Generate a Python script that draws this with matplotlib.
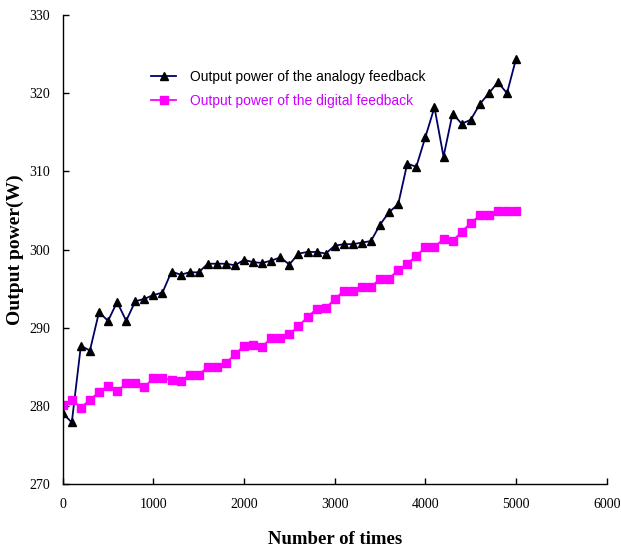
import matplotlib
matplotlib.use("Agg")
import matplotlib.pyplot as plt

# number of feedback iterations, one sample every 100
times = list(range(0, 5100, 100))

analog_power = [279.1, 277.9, 287.7, 287.1, 292.0, 290.9, 293.3, 290.9, 293.4, 293.7,
                294.2, 294.5, 297.2, 296.8, 297.1, 297.1, 298.2, 298.2, 298.2, 298.0,
                298.7, 298.4, 298.3, 298.6, 299.0, 298.1, 299.5, 299.7, 299.7, 299.5,
                300.5, 300.7, 300.7, 300.9, 301.1, 303.2, 304.8, 305.8, 311.0, 310.6,
                314.4, 318.2, 311.9, 317.4, 316.1, 316.6, 318.6, 320.0, 321.4, 320.0,
                324.4]

digital_power = [280.1, 280.8, 279.8, 280.8, 281.8, 282.6, 281.9, 282.9, 282.9, 282.4,
                 283.6, 283.6, 283.3, 283.2, 284.0, 284.0, 285.0, 285.0, 285.5, 286.6,
                 287.7, 287.8, 287.6, 288.7, 288.7, 289.2, 290.2, 291.4, 292.4, 292.5,
                 293.7, 294.7, 294.7, 295.2, 295.2, 296.3, 296.3, 297.4, 298.2, 299.2,
                 300.3, 300.3, 301.4, 301.1, 302.3, 303.4, 304.4, 304.4, 304.9, 304.9,
                 304.9]

x_ticks = [0, 1000, 2000, 3000, 4000, 5000, 6000]
y_ticks = [270, 280, 290, 300, 310, 320, 330]

fig = plt.figure(figsize=(6.21, 5.56), dpi=100)
ax = fig.add_axes([0.101, 0.129, 0.876, 0.844])

ax.plot(times, analog_power, color="#000066", linewidth=1.3, marker="^",
        markersize=6, markerfacecolor="black", markeredgecolor="black",
        label="Output power of the analogy feedback")
ax.plot(times, digital_power, color="#ff00ff", linewidth=1.3, marker="s",
        markersize=5.5, markerfacecolor="#ff00ff", markeredgecolor="#ff00ff",
        label="Output power of the digital feedback")

ax.set_xlim(0, 6000)
ax.set_ylim(270, 330)
ax.set_xticks(x_ticks)
ax.set_yticks(y_ticks)
ax.spines["top"].set_visible(False)
ax.spines["right"].set_visible(False)
for side in ("left", "bottom"):
    ax.spines[side].set_linewidth(1.0)
ax.tick_params(direction="in", length=4, width=1.0, labelsize=10)
ax.tick_params(axis="x", pad=10)
ax.tick_params(axis="y", pad=9)
for lbl in ax.get_xticklabels() + ax.get_yticklabels():
    lbl.set_fontfamily("Liberation Serif")

ax.set_xlabel("Number of times", fontfamily="Liberation Serif", fontweight="bold",
              fontsize=13.5)
ax.set_ylabel("Output power(W)", fontfamily="Liberation Serif", fontweight="bold",
              fontsize=14)
ax.xaxis.set_label_coords(0.5, -0.100)
ax.yaxis.set_label_coords(-0.072, 0.50)

leg = ax.legend(loc="upper left", bbox_to_anchor=(0.14, 0.91), frameon=False,
                prop={"family": "Liberation Sans", "size": 10}, handlelength=1.8,
                handletextpad=1.0, labelspacing=0.75)
leg.get_texts()[0].set_color("black")
leg.get_texts()[1].set_color("#cc00ff")

fig.savefig("out.png", dpi=100)
